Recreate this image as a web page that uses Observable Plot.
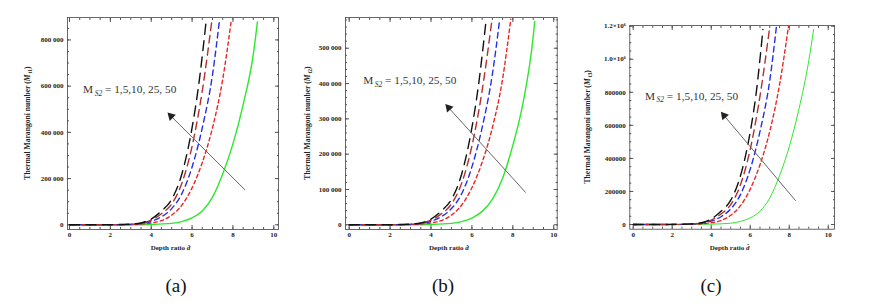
<!DOCTYPE html>
<html><head><meta charset="utf-8">
<script src="https://cdn.jsdelivr.net/npm/d3@7"></script>
<script src="https://cdn.jsdelivr.net/npm/@observablehq/plot@0.6"></script>
<style>
body{margin:0;background:#fff;width:872px;height:306px;position:relative;overflow:hidden;font-family:"Liberation Serif","Times New Roman",serif}
.panel{position:absolute;top:0}
.cap{position:absolute;top:274px;width:60px;text-align:center;font-size:19px;font-family:"Liberation Serif",serif;color:#111;line-height:24px}
</style></head>
<body>
<div id="pa" class="panel" style="left:0px"></div>
<div id="pb" class="panel" style="left:290px"></div>
<div id="pc" class="panel" style="left:580px"></div>
<div class="cap" style="left:146px">(a)</div>
<div class="cap" style="left:413px">(b)</div>
<div class="cap" style="left:681px">(c)</div>
<script>
// ---- series names / styles ----
const seriesNames = ["M_S2 = 50", "M_S2 = 25", "M_S2 = 10", "M_S2 = 5", "M_S2 = 1"];
const seriesColors = ["#111111", "#b32f2f", "#2430e6", "#ee2424", "#2fe62f"];
const seriesDash = ["10,6.5", "7.5,5", "5.5,4", "3.5,3", null];

// ---- panel (a) data ----
const a_black_x = [0,1,2,3,3.5,4,4.5,5,5.5,6,6.3,6.7];
const a_black_y = [0,100,500,3000,8000,25000,60000,110000,220000,420000,590000,890000];
const a_dred_x  = [0,1,2,3,3.5,4,4.5,5,5.5,6,6.5,6.97];
const a_dred_y  = [0,100,400,2500,7000,20000,48000,90000,180000,340000,580000,885000];
const a_blue_x  = [0,1,2,3,3.5,4,4.5,5,5.5,6,6.5,7,7.34];
const a_blue_y  = [0,80,300,2000,5500,15000,35000,70000,135000,250000,420000,650000,885000];
const a_red_x   = [0,1,2,3,3.5,4,4.5,5,5.5,6,6.5,7,7.5,7.92];
const a_red_y   = [0,50,200,1200,3500,8000,18000,42000,85000,160000,270000,420000,630000,885000];
const a_green_x = [0,1,2,3,4,5,5.5,6,6.5,7,7.5,8,8.5,9,9.2];
const a_green_y = [0,0,100,300,1500,6000,14000,30000,60000,120000,220000,350000,520000,740000,878000];

// ---- panel (b) data ----
const b_black_x = [0,1,2,3,3.5,4,4.5,5,5.5,6,6.3,6.7];
const b_black_y = [0,70,300,2000,5000,16000,39000,72000,144000,275000,386000,583000];
const b_dred_x  = [0,1,2,3,3.5,4,4.5,5,5.5,6,6.5,6.98];
const b_dred_y  = [0,70,260,1600,4600,13000,31000,59000,118000,223000,380000,580000];
const b_blue_x  = [0,1,2,3,3.5,4,4.5,5,5.5,6,6.5,7,7.36];
const b_blue_y  = [0,50,200,1300,3600,10000,23000,46000,88000,164000,275000,426000,582000];
const b_red_x   = [0,1,2,3,3.5,4,4.5,5,5.5,6,6.5,7,7.5,7.9];
const b_red_y   = [0,30,130,800,2300,5200,12000,27500,56000,105000,177000,275000,413000,582000];
const b_green_x = [0,1,2,3,4,5,5.5,6,6.5,7,7.5,8,8.5,9,9.07];
const b_green_y = [0,0,70,200,1000,4000,9000,19000,38000,72000,132000,225000,345000,535000,576000];

// ---- panel (c) data ----
const c_black_x = [0,1,2,3,3.5,4,4.5,5,5.5,6,6.3,6.65];
const c_black_y = [0,130,700,4000,10700,33500,80000,147000,295000,560000,790000,1180000];
const c_dred_x  = [0,1,2,3,3.5,4,4.5,5,5.5,6,6.5,7.0];
const c_dred_y  = [0,130,540,3350,9400,26800,64000,120000,241000,455000,777000,1195000];
const c_blue_x  = [0,1,2,3,3.5,4,4.5,5,5.5,6,6.5,7,7.34];
const c_blue_y  = [0,110,400,2700,7400,20000,47000,94000,181000,335000,563000,870000,1195000];
const c_red_x   = [0,1,2,3,3.5,4,4.5,5,5.5,6,6.5,7,7.5,7.96];
const c_red_y   = [0,70,270,1600,4700,10700,24000,56000,114000,214000,362000,563000,844000,1198000];
const c_green_x = [0,1,2,3,4,5,5.5,6,6.5,7,7.5,8,8.5,9,9.25];
const c_green_y = [0,0,130,400,2000,8000,18800,40000,80000,160000,295000,470000,700000,990000,1180000];

// ---- ticks ----
const xTicks = [0,2,4,6,8,10];
const xTickLabels = ["0","2","4","6","8","10"];
const a_yTicks = [0,200000,400000,600000,800000];
const a_yTickLabels = ["0","200 000","400 000","600 000","800 000"];
const b_yTicks = [0,100000,200000,300000,400000,500000];
const b_yTickLabels = ["0","100 000","200 000","300 000","400 000","500 000"];
const c_yTicks = [0,200000,400000,600000,800000,1000000,1200000];
const c_yTickLabels = ["0","200000","400000","600000","800000","1.0\u00d710\u2076","1.2\u00d710\u2076"];

// ---- annotations ----
const annotText = ["M", "S2", " = 1,5,10, 25, 50"];
const a_annot = {x: 0.69, y: 568000};
const b_annot = {x: 0.71, y: 396000};
const c_annot = {x: 0.63, y: 752000};
const a_arrow = [{x1: 8.58, y1: 152000, x2: 4.86, y2: 480000}];
const b_arrow = [{x1: 8.62, y1: 92000, x2: 4.76, y2: 338000}];
const c_arrow = [{x1: 8.32, y1: 145000, x2: 4.56, y2: 673000}];

function series(xs, ys){ return xs.map((x, i) => ({x, y: ys[i]})); }

function makePanel(cfg){
  const curves = cfg.curves;
  const txt = {fontSize: 7, fontWeight: "bold", fill: "#222", fontFamily: "Liberation Serif"};
  const xMinor = d3.range(0, 10.01, 0.5);
  const yMinor = d3.range(0, cfg.yDomain[1], cfg.yMinorStep);
  const marks = [
    Plot.frame({stroke: "#444", strokeWidth: 0.8}),
    Plot.axisX(xMinor, {anchor: "bottom", tickSize: -2, tickFormat: () => "", label: null, stroke: "#555"}),
    Plot.axisX(xMinor, {anchor: "top", tickSize: -2, tickFormat: () => "", label: null, stroke: "#555"}),
    Plot.axisY(yMinor, {anchor: "left", tickSize: -2, tickFormat: () => "", label: null, stroke: "#555"}),
    Plot.axisY(yMinor, {anchor: "right", tickSize: -2, tickFormat: () => "", label: null, stroke: "#555"}),
    Plot.axisX(xTicks, {anchor: "bottom", tickSize: -4, tickPadding: 7, label: null, stroke: "#555",
      tickFormat: d => xTickLabels[xTicks.indexOf(d)], ...txt}),
    Plot.axisX(xTicks, {anchor: "top", tickSize: -4, tickFormat: () => "", label: null, stroke: "#555"}),
    Plot.axisY(cfg.yTicks, {anchor: "left", tickSize: -4, tickPadding: 8, label: null, stroke: "#555",
      tickFormat: d => cfg.yTickLabels[cfg.yTicks.indexOf(d)], ...txt}),
    Plot.axisY(cfg.yTicks, {anchor: "right", tickSize: -4, tickFormat: () => "", label: null, stroke: "#555"}),
  ];
  [4, 3, 2, 1, 0].forEach(k => {
    const c = curves[k];
    marks.push(Plot.line(series(c[0], c[1]), {x: "x", y: "y", stroke: seriesColors[k],
      strokeDasharray: seriesDash[k], strokeWidth: k === 4 ? cfg.greenWidth : 1.4,
      curve: "monotone-x", clip: true}));
  });
  marks.push(Plot.arrow(cfg.arrow, {x1: "x1", y1: "y1", x2: "x2", y2: "y2", stroke: "#666",
    strokeWidth: 1, headLength: 6, headAngle: 50}));
  marks.push(Plot.dot(cfg.arrow, {x: "x2", y: "y2", symbol: "triangle", r: 3.2, fill: "#222",
    stroke: "none", rotate: cfg.headRot, dx: cfg.headD[0], dy: cfg.headD[1]}));
  const plot = Plot.plot({
    width: cfg.width, height: cfg.height,
    marginLeft: cfg.m[0], marginRight: cfg.m[1], marginTop: cfg.m[2], marginBottom: cfg.m[3],
    x: {domain: cfg.xDomain}, y: {domain: cfg.yDomain},
    style: {background: "transparent", overflow: "visible"},
    marks
  });
  const svg = d3.select(plot);
  const xs = plot.scale("x"), ys = plot.scale("y");
  // annotation
  const t = svg.append("text")
    .attr("x", xs.apply(cfg.annot.x)).attr("y", ys.apply(cfg.annot.y))
    .attr("text-anchor", "start")
    .attr("font-family", "Liberation Serif").attr("font-size", 11.3).attr("fill", "#333");
  t.append("tspan").text(annotText[0]);
  t.append("tspan").attr("font-size", 7.5).attr("font-style", "italic").attr("dy", 2.5).attr("dx", 1.5).text(annotText[1]);
  t.append("tspan").attr("dy", -2.5).text(annotText[2]);
  // axis labels
  const x0 = cfg.m[0], x1 = cfg.width - cfg.m[1], y0 = cfg.m[2], y1 = cfg.height - cfg.m[3];
  const xl = svg.append("text").attr("x", (x0 + x1) / 2 - 2).attr("y", y1 + 21)
    .attr("text-anchor", "middle").attr("font-family", "Liberation Serif")
    .attr("font-size", 7).attr("font-weight", "bold").attr("fill", "#222");
  xl.append("tspan").text("Depth ratio ");
  xl.append("tspan").attr("font-style", "italic").text("d\u0302");
  const yl = svg.append("text")
    .attr("transform", `translate(${x0 - cfg.ylabOff},${(y0 + y1) / 2}) rotate(-90)`)
    .attr("text-anchor", "middle").attr("font-family", "Liberation Serif")
    .attr("font-size", 7.6).attr("font-weight", "bold").attr("fill", "#222");
  yl.append("tspan").text("Thermal Marangoni number (");
  yl.append("tspan").attr("font-style", "italic").text("M");
  yl.append("tspan").attr("font-size", 5.5).attr("dy", 1.5).attr("dx", 1).text(cfg.sub);
  yl.append("tspan").attr("dy", -1.5).text(")");
  document.getElementById(cfg.id).appendChild(plot);
}

makePanel({id: "pa", width: 290, height: 260, m: [67, 12, 17, 31],
  xDomain: [-0.098, 10.23], yDomain: [-20300, 897000], yMinorStep: 50000,
  yTicks: a_yTicks, yTickLabels: a_yTickLabels, annot: a_annot, arrow: a_arrow, greenWidth: 1.4,
  headRot: -45, headD: [2.2, 2.2],
  ylabOff: 37, sub: "t1",
  curves: [[a_black_x, a_black_y], [a_dred_x, a_dred_y], [a_blue_x, a_blue_y], [a_red_x, a_red_y], [a_green_x, a_green_y]]});
makePanel({id: "pb", width: 290, height: 260, m: [55, 23.3, 17, 31],
  xDomain: [-0.18, 10.17], yDomain: [-13300, 587000], yMinorStep: 20000,
  yTicks: b_yTicks, yTickLabels: b_yTickLabels, annot: b_annot, arrow: b_arrow, greenWidth: 1.4,
  headRot: -42, headD: [2.1, 2.3],
  ylabOff: 35, sub: "t2",
  curves: [[b_black_x, b_black_y], [b_dred_x, b_dred_y], [b_blue_x, b_blue_y], [b_red_x, b_red_y], [b_green_x, b_green_y]]});
makePanel({id: "pc", width: 292, height: 260, m: [49.3, 38, 25, 31.3],
  xDomain: [-0.174, 10.32], yDomain: [-28400, 1204000], yMinorStep: 50000,
  yTicks: c_yTicks, yTickLabels: c_yTickLabels, annot: c_annot, arrow: c_arrow, greenWidth: 1,
  headRot: -40, headD: [1.9, 2.4],
  ylabOff: 39, sub: "t3",
  curves: [[c_black_x, c_black_y], [c_dred_x, c_dred_y], [c_blue_x, c_blue_y], [c_red_x, c_red_y], [c_green_x, c_green_y]]});
</script>
</body></html>
